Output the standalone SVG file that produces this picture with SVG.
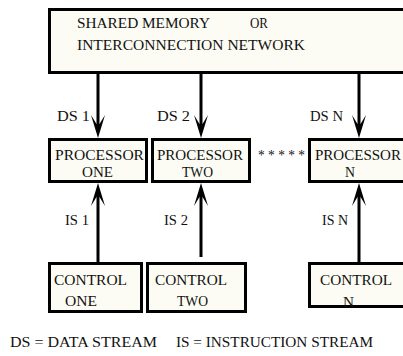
<svg xmlns="http://www.w3.org/2000/svg" xmlns:xlink="http://www.w3.org/1999/xlink" width="403" height="356" viewBox="0 0 403 356">
  <style>
    .box { fill: #fcfcf4; stroke: #000; stroke-width: 3; }
    .lbl { font-family: "Liberation Serif", "DejaVu Serif", serif; font-size: 14px; fill: #111; }
    .wire { stroke: #000; stroke-width: 3; fill: none; }
  </style>
  <defs>
    <!-- barbed arrowhead, tip at origin, pointing down -->
    <path id="head" d="M0,0 L-7,-23 L-1.5,-14 L1.5,-14 L7,-23 Z" fill="#000"/>
  </defs>
  <rect width="403" height="356" fill="#fff"/>

  <g id="shared-memory">
    <rect class="box" x="49.5" y="9.5" width="360" height="63"/>
    <text class="lbl" x="77" y="28" textLength="133" lengthAdjust="spacingAndGlyphs">SHARED MEMORY</text>
    <text class="lbl" x="250" y="28" textLength="18" lengthAdjust="spacingAndGlyphs">OR</text>
    <text class="lbl" x="77" y="50" textLength="228" lengthAdjust="spacingAndGlyphs">INTERCONNECTION NETWORK</text>
  </g>

  <g id="connectors">
    <!-- data streams -->
    <line class="wire" x1="98" y1="73" x2="98" y2="125"/>
    <line class="wire" x1="201" y1="73" x2="201" y2="125"/>
    <line class="wire" x1="359" y1="73" x2="359" y2="125"/>
    <use xlink:href="#head" transform="translate(98,138)"/>
    <use xlink:href="#head" transform="translate(201,138)"/>
    <use xlink:href="#head" transform="translate(359,138)"/>
    <text class="lbl" x="57" y="121" textLength="33" lengthAdjust="spacingAndGlyphs">DS 1</text>
    <text class="lbl" x="157" y="121" textLength="33" lengthAdjust="spacingAndGlyphs">DS 2</text>
    <text class="lbl" x="310" y="121" textLength="33" lengthAdjust="spacingAndGlyphs">DS N</text>
    <!-- instruction streams -->
    <line class="wire" x1="98" y1="263" x2="98" y2="195"/>
    <line class="wire" x1="201" y1="257" x2="201" y2="195"/>
    <line class="wire" x1="359" y1="263" x2="359" y2="195"/>
    <use xlink:href="#head" transform="translate(98,183) rotate(180)"/>
    <use xlink:href="#head" transform="translate(201,183) rotate(180)"/>
    <use xlink:href="#head" transform="translate(359,183) rotate(180)"/>
    <text class="lbl" x="65" y="225" textLength="24" lengthAdjust="spacingAndGlyphs">IS 1</text>
    <text class="lbl" x="164" y="225" textLength="24" lengthAdjust="spacingAndGlyphs">IS 2</text>
    <text class="lbl" x="322" y="225" textLength="26" lengthAdjust="spacingAndGlyphs">IS N</text>
  </g>

  <g id="processor-one">
    <rect class="box" x="49.5" y="139.5" width="97" height="42"/>
    <text class="lbl" x="55" y="160" textLength="89" lengthAdjust="spacingAndGlyphs">PROCESSOR</text>
    <text class="lbl" x="82" y="177" textLength="31" lengthAdjust="spacingAndGlyphs">ONE</text>
  </g>
  <g id="processor-two">
    <rect class="box" x="152.5" y="139.5" width="97" height="42"/>
    <text class="lbl" x="157" y="160" textLength="86" lengthAdjust="spacingAndGlyphs">PROCESSOR</text>
    <text class="lbl" x="182" y="177" textLength="31" lengthAdjust="spacingAndGlyphs">TWO</text>
  </g>
  <text class="lbl" x="258" y="160" textLength="47" lengthAdjust="spacingAndGlyphs">* * * * *</text>
  <g id="processor-n">
    <rect class="box" x="309.5" y="139.5" width="100" height="42"/>
    <text class="lbl" x="315" y="160" textLength="86" lengthAdjust="spacingAndGlyphs">PROCESSOR</text>
    <text class="lbl" x="345" y="177" textLength="10" lengthAdjust="spacingAndGlyphs">N</text>
  </g>

  <g id="control-one">
    <rect class="box" x="49.5" y="263.5" width="92" height="48"/>
    <text class="lbl" x="54" y="285" textLength="73" lengthAdjust="spacingAndGlyphs">CONTROL</text>
    <text class="lbl" x="65" y="306" textLength="32" lengthAdjust="spacingAndGlyphs">ONE</text>
  </g>
  <g id="control-two">
    <rect class="box" x="147.5" y="263.5" width="98" height="48"/>
    <text class="lbl" x="155" y="285" textLength="72" lengthAdjust="spacingAndGlyphs">CONTROL</text>
    <text class="lbl" x="177" y="306" textLength="31" lengthAdjust="spacingAndGlyphs">TWO</text>
  </g>
  <g id="control-n">
    <rect class="box" x="309.5" y="263.5" width="100" height="43"/>
    <text class="lbl" x="320" y="285" textLength="72" lengthAdjust="spacingAndGlyphs">CONTROL</text>
    <text class="lbl" x="343" y="307" textLength="11" lengthAdjust="spacingAndGlyphs">N</text>
  </g>

  <g id="legend">
    <text class="lbl" x="10" y="347" textLength="147" lengthAdjust="spacingAndGlyphs">DS = DATA STREAM</text>
    <text class="lbl" x="176" y="347" textLength="197" lengthAdjust="spacingAndGlyphs">IS = INSTRUCTION STREAM</text>
  </g>
</svg>
